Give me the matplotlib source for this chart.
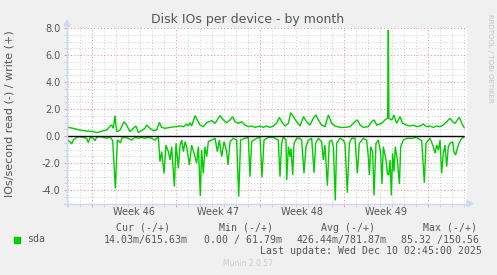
import matplotlib
matplotlib.use('Agg')
import matplotlib.pyplot as plt
import numpy as np
from matplotlib.lines import Line2D
from matplotlib.patches import Polygon, Rectangle

# ---------------- data (days since Mon Nov 10, start of week 46) ----------------
write_days = [-2.08, -1.58, -1.03, -0.47, 0.09, 0.36, 0.64, 0.92, 1.20, 1.48, 1.61, 1.75, 1.89,
              2.03, 2.31, 2.45, 2.64, 2.86, 3.14, 3.42, 3.64, 3.84, 4.11, 4.39, 4.53, 4.81, 5.09,
              5.36, 5.59, 5.78, 6.06, 6.48, 6.89, 7.31, 7.59, 7.86, 8.00, 8.14, 8.28, 8.56, 8.70,
              8.98, 9.25, 9.53, 9.95, 10.23, 10.64, 10.92, 11.20, 11.48, 11.70, 11.89, 12.17,
              12.45, 12.73, 13.00, 13.28, 13.56, 13.98, 14.25, 14.53, 14.81, 15.09, 15.36, 15.59,
              15.78, 16.06, 16.34, 16.53, 16.75, 17.03, 17.31, 17.59, 17.86, 18.14, 18.42, 18.64,
              18.84, 19.11, 19.39, 19.67, 19.95, 20.23, 20.64, 21.06, 21.48, 21.89, 22.09, 22.31,
              22.59, 23.00, 23.28, 23.48, 23.70, 24.11, 24.39, 24.61, 24.67, 24.72, 24.95, 25.14,
              25.36, 25.64, 25.86, 26.20, 26.48, 26.75, 27.03, 27.31, 27.59, 27.86, 28.14, 28.42,
              28.70, 28.98, 29.25, 29.53, 29.81, 30.03, 30.23, 30.42, 30.59, 30.78, 30.98]
write_vals = [0.64, 0.57, 0.44, 0.37, 0.32, 0.25, 0.32, 0.40, 0.44, 0.74, 0.81, 0.57, 1.51,
              0.32, 0.44, 0.69, 1.06, 0.81, 0.32, 0.57, 0.74, 0.25, 0.40, 0.57, 0.81, 0.57, 0.40,
              0.44, 1.01, 0.64, 0.57, 0.64, 0.69, 0.74, 0.69, 0.89, 0.74, 0.99, 0.74, 1.51, 1.26,
              0.81, 0.69, 0.99, 1.14, 0.94, 1.51, 1.19, 0.99, 1.19, 1.43, 1.06, 0.94,
              1.06, 0.81, 0.69, 0.74, 0.64, 0.74, 0.64, 0.74, 0.64, 0.74, 0.94, 1.38,
              1.06, 0.74, 0.94, 1.73, 1.43, 1.06, 0.74, 1.43, 1.06, 0.81, 1.31, 1.56,
              1.19, 0.81, 0.69, 1.56, 0.94, 0.74, 0.64, 0.64, 0.69, 1.06, 1.19, 0.81,
              0.64, 0.69, 1.06, 1.19, 0.81, 0.94, 1.19, 1.31, 7.85, 1.31, 1.19, 1.56,
              0.94, 1.43, 0.94, 0.81, 0.74, 0.81, 0.69, 0.74, 0.89, 0.69, 0.74, 0.64,
              0.74, 0.69, 0.81, 1.06, 1.31, 1.06, 0.94, 1.19, 1.38, 0.94, 0.64]

read_days = [-2.08, -1.86, -1.72, -1.58, -1.30, -1.03, -0.47, -0.33, -0.19, 0.09, 0.22, 0.36,
             0.64, 0.92, 1.20, 1.48, 1.70, 1.92, 2.09, 2.36, 2.45, 2.73, 3.00, 3.28, 3.56, 3.84,
             4.11, 4.39, 4.67, 4.95, 5.23, 5.50, 5.64, 5.78, 5.98, 6.14, 6.34, 6.48, 6.61, 6.84,
             6.98, 7.17, 7.31, 7.45, 7.59, 7.73, 7.86, 8.09, 8.28, 8.48, 8.70, 8.84, 9.00, 9.11,
             9.25, 9.39, 9.53, 9.67, 9.95, 10.23, 10.42, 10.59, 10.78, 10.98, 11.20, 11.31, 11.48,
             11.75, 12.03, 12.20, 12.36, 12.73, 13.00, 13.14, 13.28, 13.70, 13.98, 14.14, 14.31,
             14.67, 15.09, 15.50, 15.64, 15.78, 15.92, 16.14, 16.20, 16.34, 16.48, 16.56, 16.70,
             16.81, 17.03, 17.25, 17.45, 17.64, 17.81, 18.00, 18.28, 18.48, 18.61, 18.84, 19.11,
             19.25, 19.39, 19.59, 19.75, 19.95, 20.09, 20.25, 20.36, 20.64, 20.92, 21.06, 21.25,
             21.42, 21.61, 21.89, 22.09, 22.25, 22.59, 22.86, 23.00, 23.09, 23.20, 23.36, 23.48,
             23.64, 23.84, 24.03, 24.14, 24.25, 24.48, 24.59, 24.70, 24.81, 24.92, 25.03, 25.14,
             25.25, 25.42, 25.59, 25.70, 25.92, 26.20, 26.61, 27.03, 27.45, 27.67, 27.81, 28.14,
             28.42, 28.56, 28.70, 28.84, 28.98, 29.11, 29.25, 29.39, 29.53, 29.67, 29.81, 30.03,
             30.14, 30.28, 30.42, 30.56, 30.78, 30.98]
read_vals = [0.30, 0.42, 0.59, 0.30, 0.10, 0.05, 0.17, 0.49, 0.10, 0.17, 0.35, 0.10,
             0.05, 0.10, 0.17, 0.05, 0.35, 3.88, 0.30, 0.49, 0.17, 0.10, 0.17, 0.30, 0.10, 0.17,
             0.10, 0.17, 0.10, 0.17, 0.30, 0.05, 1.90, 1.16, 2.77, 0.67, 1.16, 1.78, 0.79, 3.75,
             0.54, 2.40, 0.67, 0.30, 1.16, 0.42, 0.79, 2.15, 0.67, 1.28, 2.02, 0.79, 4.44, 1.04,
             2.77, 0.79, 1.53, 0.42, 0.30, 0.17, 1.16, 0.30, 1.53, 0.42, 1.16, 2.15, 0.42,
             0.17, 0.30, 4.49, 0.30, 0.17, 0.10, 3.01, 0.42, 0.17, 0.10, 3.06, 0.30,
             0.10, 0.10, 0.30, 3.01, 0.54, 0.05, 0.30, 3.26, 0.79, 1.53, 0.91, 2.89,
             0.54, 0.17, 0.17, 0.30, 2.77, 0.79, 0.30, 0.17, 2.72, 0.54, 0.17, 0.42,
             1.78, 0.67, 3.68, 0.42, 0.30, 0.79, 4.77, 0.54, 0.17, 0.30, 0.59, 4.20,
             0.54, 0.17, 0.17, 2.77, 0.54, 0.17, 0.30, 1.53, 2.89, 0.79, 1.16, 4.40,
             0.54, 0.30, 1.28, 3.56, 0.79, 1.78, 2.77, 2.89, 1.78, 4.40, 1.28, 2.64,
             0.79, 1.78, 3.56, 0.79, 0.30, 0.17, 0.17, 0.10, 0.35, 3.46, 0.54, 0.17,
             0.79, 1.28, 0.67, 1.04, 0.30, 2.77, 1.28, 0.67, 2.27, 0.79, 0.54, 0.42,
             1.16, 1.41, 0.91, 0.54, 0.17, 0.10]

week_starts = [0, 7, 14, 21, 28]
week_labels = ['Week 46', 'Week 47', 'Week 48', 'Week 49']
y_major = [-4, -2, 0, 2, 4, 6, 8]

title = 'Disk IOs per device - by month'
ylabel = 'IOs/second read (-) / write (+)'
legend_name = 'sda'
col_headers = ['Cur (-/+)', 'Min (-/+)', 'Avg (-/+)', 'Max (-/+)']
col_values = ['14.03m/615.63m', '0.00 / 61.79m', '426.44m/781.87m', '85.32 /150.56']
last_update = 'Last update: Wed Dec 10 02:45:00 2025'
footer = 'Munin 2.0.57'
watermark = 'RRDTOOL / TOBI OETIKER'

# ---------------- layout ----------------
W, H = 497, 275
fig = plt.figure(figsize=(W / 100, H / 100), dpi=100, facecolor='#F0F0F0')


def fx(px):
    return px / W


def fy(py):
    return 1 - py / H


L, R, T, B = 67, 467, 28, 203.5
ax = fig.add_axes([fx(L), fy(B), (R - L) / W, (B - T) / H])
ax.set_facecolor('white')
px_per_day = 12.0
x0 = (L - 92.3) / px_per_day
x1 = (R - 92.3) / px_per_day
ax.set_xlim(x0, x1)
ax.set_ylim(-5, 8)

FONT = '#555555'
GRID = '#CFCFCF'
MGRID = '#EE9A9A'
GREEN = '#00CC00'
AXISC = '#CFD6F8'

ax.set_xticks(week_starts)
ax.set_xticks(np.arange(-2, 32), minor=True)
ax.set_yticks(y_major)
ax.set_yticks(np.arange(-5, 8.01, 0.5), minor=True)
ax.set_xticklabels([])
ax.set_yticklabels(['%.1f' % v for v in y_major])
ax.grid(which='minor', color=GRID, linestyle=(0, (1, 2)), linewidth=0.7)
ax.grid(which='major', color=MGRID, linestyle=(0, (1, 2)), linewidth=0.8)
ax.set_axisbelow(True)
ax.tick_params(axis='y', which='both', direction='out', length=2.2, width=0.7, color=GRID,
               labelsize=7, labelcolor=FONT, pad=2.6)
ax.tick_params(axis='y', which='major', color=MGRID)
ax.tick_params(axis='x', which='minor', direction='out', length=2.0, width=0.7, color=GRID)
ax.tick_params(axis='x', which='major', direction='out', length=2.2, width=0.7, color=MGRID)
for s in ax.spines.values():
    s.set_visible(False)

# data lines
ax.plot(write_days, write_vals, color=GREEN, lw=1.0, solid_joinstyle='miter')
ax.plot(read_days, -np.array(read_vals), color=GREEN, lw=1.0, solid_joinstyle='miter')
ax.hlines(0, x0, write_days[-1], color='black', lw=1.0, zorder=5)

# week labels
for i, lab in enumerate(week_labels):
    ax.text(week_starts[i] + 3.5, -(212 - B) / (B - T), lab, transform=ax.get_xaxis_transform(),
            ha='center', va='center', fontsize=7, color=FONT)

# axes lines with arrows
fig.add_artist(Line2D([fx(L), fx(L)], [fy(206), fy(24)], color=AXISC, lw=1.0))
fig.add_artist(Line2D([fx(64), fx(470)], [fy(B), fy(B)], color=AXISC, lw=1.0))
fig.add_artist(Polygon([[fx(L - 3), fy(26)], [fx(L + 3), fy(26)], [fx(L), fy(20)]],
                       closed=True, color=AXISC, transform=fig.transFigure))
fig.add_artist(Polygon([[fx(467), fy(B - 3)], [fx(467), fy(B + 3)], [fx(473), fy(B)]],
                       closed=True, color=AXISC, transform=fig.transFigure))

# texts
fig.text(fx(248), fy(19), title, ha='center', va='center', fontsize=9, color=FONT)
fig.text(fx(10), fy(114), ylabel, ha='center', va='center', rotation=90, fontsize=8, color=FONT)
fig.text(fx(490), fy(58), watermark, ha='center', va='center', rotation=270, fontsize=5,
         color='#C4C4C4')

mono = dict(family='DejaVu Sans Mono', fontsize=7.1, color=FONT, va='center')
fig.add_artist(Rectangle((fx(14), fy(242.7)), 6 / W, 5.6 / H, color=GREEN,
                         transform=fig.transFigure))
fig.text(fx(27), fy(239.5), legend_name, ha='left', **mono)
for x, h in zip([116, 219, 321, 423], col_headers):
    fig.text(fx(x), fy(228), h, ha='left', **mono)
for x, v in zip([104, 204, 297, 401], col_values):
    fig.text(fx(x), fy(239.5), v, ha='left', **mono)
fig.text(fx(482), fy(251), last_update, ha='right', **mono)
fig.text(fx(248), fy(264), footer, ha='center', va='center', fontsize=5.5, color='#CCCCCC')

fig.savefig('out.png', dpi=100, facecolor=fig.get_facecolor())
